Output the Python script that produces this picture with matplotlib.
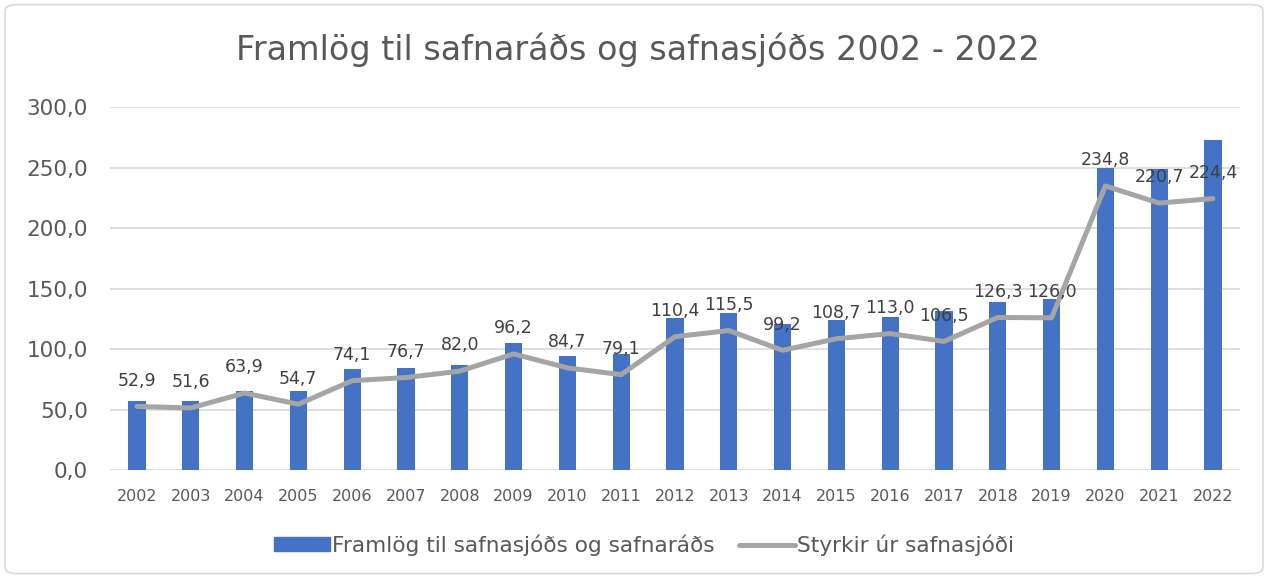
import numpy as np
import matplotlib.pyplot as plt
from matplotlib.patches import FancyBboxPatch, Patch
from matplotlib.lines import Line2D

years = [str(y) for y in range(2002, 2023)]
framlog = [57.5, 57.3, 65.8, 65.8, 83.7, 84.5, 87.2, 105.6, 94.4, 96.3, 125.7,
           130.1, 121.0, 123.8, 126.6, 131.7, 138.9, 141.3, 250.0, 249.2, 273.0]
styrkir = [52.9, 51.6, 63.9, 54.7, 74.1, 76.7, 82.0, 96.2, 84.7, 79.1, 110.4,
           115.5, 99.2, 108.7, 113.0, 106.5, 126.3, 126.0, 234.8, 220.7, 224.4]
yticks = [0, 50, 100, 150, 200, 250, 300]

plt.rcParams['font.family'] = ['DejaVu Sans']
txt = '#595959'

def fmt(v):
    return f"{v:.1f}".replace('.', ',')

fig = plt.figure(figsize=(12.68, 5.77), dpi=100)
frame = FancyBboxPatch((0.004, 0.006), 0.992, 0.986, boxstyle="round,pad=0,rounding_size=0.01",
                       transform=fig.transFigure, fc='white', ec='#D9D9D9', lw=1.2, zorder=-10)
fig.patches.append(frame)
ax = fig.add_axes([0.0868, 0.1846, 0.891, 0.63])
ax.set_facecolor('none')

x = np.arange(len(years))
ax.bar(x, framlog, width=0.32, color='#4472C4', zorder=2)
ax.plot(x, styrkir, color='#A5A5A5', lw=3.6, solid_capstyle='round', solid_joinstyle='round', zorder=3)
for xi, v in zip(x, styrkir):
    ax.annotate(fmt(v), (xi, v), xytext=(0, 12), textcoords='offset points', ha='center', va='bottom',
                fontsize=12.5, color='#404040', zorder=4)

ax.set_xlim(-0.5, len(years) - 0.5)
ax.set_ylim(0, 300)
ax.set_yticks(yticks)
ax.set_yticklabels([fmt(t) for t in yticks], fontsize=15.5, color=txt)
ax.set_xticks(x)
ax.set_xticklabels(years, fontsize=11.5, color=txt)
ax.tick_params(length=0, pad=13)
ax.tick_params(axis='y', pad=16)
ax.grid(axis='y', color='#D9D9D9', lw=1.2, zorder=0)
for s in ax.spines.values():
    s.set_visible(False)

fig.text(0.503, 0.913, "Framlög til safnaráðs og safnasjóðs 2002 - 2022", ha='center', va='center',
         fontsize=24, color=txt)

handles = [Patch(color='#4472C4'), Line2D([0], [0], color='#A5A5A5', lw=3.6, solid_capstyle='round')]
labels = ["Framlög til safnasjóðs og safnaráðs", "Styrkir úr safnasjóði"]
fig.legend(handles, labels, loc='center', bbox_to_anchor=(0.508, 0.055), ncol=2, frameon=False,
           fontsize=15.6, labelcolor=txt, handlelength=2.6, handleheight=0.6, columnspacing=1.1,
           handletextpad=0.1)

fig.savefig('out.png', dpi=100)
